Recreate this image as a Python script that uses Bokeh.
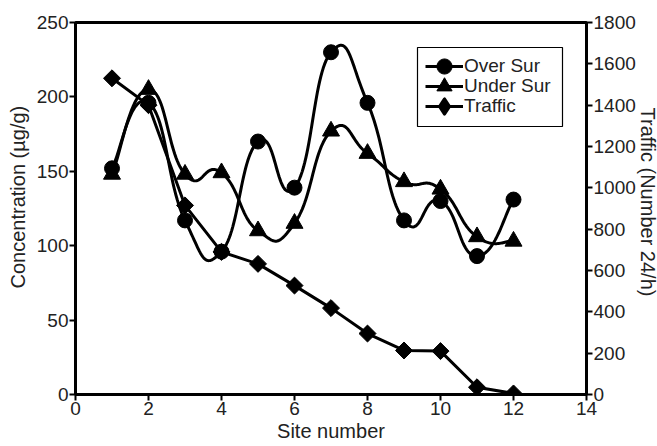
import numpy as np
from bokeh.plotting import figure
from bokeh.models import (Range1d, LinearAxis, FixedTicker, Legend, LegendItem,
                          BoxAnnotation, Title)
from bokeh.embed import file_html
from bokeh.resources import INLINE

# ---- data ----
sites = [1, 2, 3, 4, 5, 6, 7, 8, 9, 10, 11, 12]
over_sur = [152, 196, 117, 96, 170, 139, 230, 196, 117, 130, 93, 131]
under_sur = [148, 205, 148, 149, 110, 115, 177, 162, 143, 138, 106, 103]
traffic = [1530, 1400, 915, 690, 632, 527, 418, 295, 213, 210, 35, 5]

x_ticks = [0, 2, 4, 6, 8, 10, 12, 14]
left_ticks = [0, 50, 100, 150, 200, 250]
right_ticks = [0, 200, 400, 600, 800, 1000, 1200, 1400, 1600, 1800]

FONT = "Liberation Sans"
TXT = "#222222"


def smooth(xs, ys, k=0.25, n=30):
    """Spreadsheet-style smoothed line: cubic Bezier between data points."""
    P = np.column_stack([np.asarray(xs, float), np.asarray(ys, float)])
    m = len(P)
    t = np.linspace(0.0, 1.0, n + 1)[1:, None]
    out = [P[:1]]
    for i in range(m - 1):
        prev = P[max(i - 1, 0)]
        nxt = P[min(i + 2, m - 1)]
        a, d = P[i], P[i + 1]
        b = a + k * (d - prev)
        c = d - k * (nxt - a)
        seg = ((1 - t) ** 3) * a + 3 * ((1 - t) ** 2) * t * b + 3 * (1 - t) * t ** 2 * c + t ** 3 * d
        out.append(seg)
    Q = np.vstack(out)
    return Q[:, 0], Q[:, 1]


p = figure(width=657, height=446, output_backend="svg", toolbar_location=None,
           x_range=Range1d(0, 14), y_range=Range1d(0, 250),
           min_border_left=75, min_border_right=71, min_border_top=22, min_border_bottom=52,
           background_fill_color="white", border_fill_color="white")
p.extra_y_ranges = {"traffic": Range1d(0, 1800)}
p.xgrid.visible = False
p.ygrid.visible = False
p.outline_line_color = "black"
p.outline_line_width = 3
p.outline_line_alpha = 1.0

right_axis = LinearAxis(y_range_name="traffic")
p.add_layout(right_axis, "right")

p.xaxis.axis_label = "Site number"
p.xaxis.ticker = FixedTicker(ticks=x_ticks)
p.yaxis[0].ticker = FixedTicker(ticks=left_ticks)
right_axis.ticker = FixedTicker(ticks=right_ticks)

for ax in [p.xaxis[0], p.yaxis[0], right_axis]:
    ax.axis_line_width = 3
    ax.axis_line_color = "black"
    ax.major_tick_line_width = 2
    ax.major_tick_line_color = "black"
    ax.major_tick_out = 6
    ax.major_tick_in = 0
    ax.minor_tick_line_color = None
    ax.major_label_text_font = FONT
    ax.major_label_text_font_size = "19px"
    ax.major_label_text_color = TXT
    ax.major_label_standoff = 1
    ax.axis_label_text_font = FONT
    ax.axis_label_text_font_size = "20px"
    ax.axis_label_text_font_style = "normal"
    ax.axis_label_text_color = TXT
    ax.axis_label_standoff = 2

# vertical axis titles (as side titles so they can be placed like the reference)
left_title = Title(text="Concentration (µg/g)", align="left", offset=106, standoff=8,
                   vertical_align="middle", text_font=FONT, text_font_size="20px",
                   text_font_style="normal", text_color=TXT)
p.add_layout(left_title, "left")

right_title = Title(text="Traffic (Number 24/h)", align="left", offset=85, standoff=-6,
                    vertical_align="middle", text_font=FONT, text_font_size="20px",
                    text_font_style="normal", text_color=TXT)
p.add_layout(right_title, "right")

# ---- series ----
ox, oy = smooth(sites, over_sur)
ux, uy = smooth(sites, under_sur)

l_over = p.line(ox, oy, line_color="black", line_width=3, line_join="round")
s_over = p.scatter(sites, over_sur, marker="circle", size=15,
                   fill_color="black", line_color="black")

l_under = p.line(ux, uy, line_color="black", line_width=3, line_join="round")
s_under = p.scatter(sites, under_sur, marker="triangle", size=17,
                    fill_color="black", line_color="black")

l_traf = p.line(sites, traffic, y_range_name="traffic", line_color="black",
                line_width=3, line_join="round")
# diamond used for the legend key (hidden under the plotted rotated squares)
s_traf_key = p.scatter(sites, traffic, y_range_name="traffic", marker="diamond",
                       size=12, fill_color="black", line_color="black",
                       line_width=3, line_join="round")
s_traf = p.scatter(sites, traffic, y_range_name="traffic", marker="square",
                   angle=np.pi / 4, size=12, fill_color="black", line_color="black")

# ---- legend ----
box = BoxAnnotation(left=342, right=487, top=347, bottom=268,
                    left_units="screen", right_units="screen",
                    top_units="screen", bottom_units="screen",
                    fill_color="white", fill_alpha=1.0,
                    line_color="black", line_width=1.2, line_alpha=1.0)
p.add_layout(box)

entries = [("Over Sur", [l_over, s_over], 309),
           ("Under Sur", [l_under, s_under], 289),
           ("Traffic", [l_traf, s_traf_key], 269)]
for label, rends, ypos in entries:
    lg = Legend(items=[LegendItem(label=label, renderers=rends)], location=(350, ypos))
    lg.label_text_font = FONT
    lg.label_text_font_size = "19px"
    lg.label_text_color = TXT
    lg.glyph_width = 38
    lg.glyph_height = 38
    lg.label_height = 20
    lg.padding = 0
    lg.margin = 0
    lg.label_standoff = 1
    lg.border_line_alpha = 0
    lg.background_fill_alpha = 0
    p.add_layout(lg)

open("out.html", "w").write(file_html(p, INLINE))
